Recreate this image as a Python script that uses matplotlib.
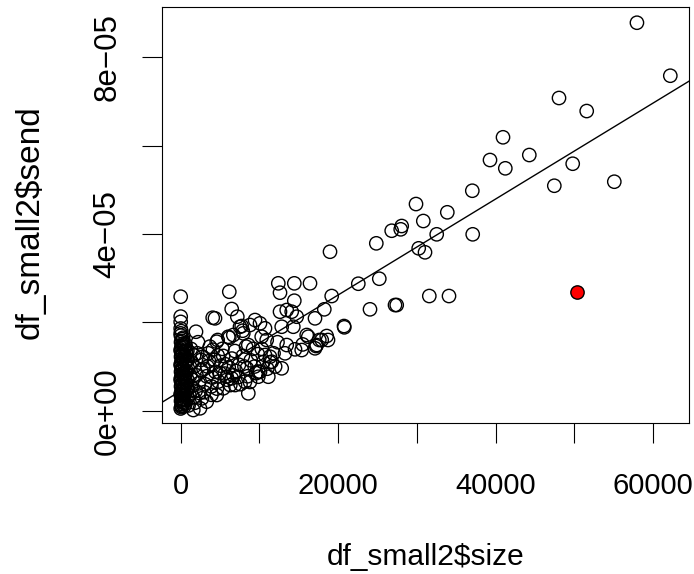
import matplotlib
matplotlib.use("Agg")
import matplotlib.pyplot as plt
import numpy as np

plt.rcParams['font.family'] = ['Liberation Sans', 'DejaVu Sans']

# ---- data: size, send (send in units of 1e-5) ----
# dense column of very small sizes
col_size = [0, 80, 150, 250, 350, 40, 120, 200, 300, 20,
            0, 80, 150, 250, 350, 40, 120, 200, 300, 20,
            0, 80, 150, 250, 350, 40, 120, 200, 300, 20,
            0, 80, 150, 250, 350, 40, 120, 200, 300, 20,
            0, 80, 150, 250, 350, 40, 120, 200, 300, 20,
            0, 80, 150, 250, 0, 0, 0, 0,
            450, 600, 750, 900, 500, 650, 800, 550, 700, 850,
            450, 600, 750, 900, 500, 650, 800, 550, 700, 850,
            450, 600]
col_send = [0.05, 0.08, 0.12, 0.15, 0.18, 0.22, 0.25, 0.28, 0.32, 0.35,
            0.38, 0.42, 0.45, 0.48, 0.52, 0.55, 0.58, 0.62, 0.65, 0.68,
            0.72, 0.75, 0.78, 0.82, 0.85, 0.88, 0.92, 0.95, 0.98, 1.02,
            1.05, 1.08, 1.12, 1.15, 1.18, 1.22, 1.25, 1.28, 1.32, 1.35,
            1.38, 1.42, 1.45, 1.48, 1.52, 1.55, 1.58, 1.62, 1.65, 1.70,
            1.75, 1.80, 0.10, 0.20, 1.86, 2.01, 2.13, 2.58,
            0.10, 0.16, 0.24, 0.30, 0.36, 0.44, 0.50, 0.56, 0.64, 0.70,
            0.76, 0.84, 0.90, 0.96, 1.04, 1.10, 1.16, 1.24, 1.30, 1.36,
            1.44, 1.50]

# small-to-medium sizes
mid_size = [400, 550, 700, 900, 1100, 1300, 1500, 1700, 1900, 2100,
            2300, 2600, 2800, 3000, 3300, 3600, 3900, 4100, 4400, 4800,
            5100, 5400, 5600, 6100, 6500, 7000, 7400, 7900, 8400, 8900,
            9400, 9800, 6300, 7300, 8500, 2700, 1800, 1000, 3900, 10300,
            11800, 12300, 15500,
            500, 700, 900, 1200, 1400, 1600, 2000, 2200, 2400, 2600,
            3100, 3400, 3700, 4000, 4300, 4600, 5000, 5300, 5900, 6700,
            7600, 8100, 8800, 9600, 10500, 11000, 12000, 1300, 1700, 2900,
            3500, 4700, 5700, 6900, 8300, 9200,
            6175, 6480, 4066, 4358, 7193, 1944, 7535, 7954, 8806, 9441,
            6048, 4575, 6684, 12402, 14435, 16429, 12618, 14435, 18246, 17064,
            20788, 12618, 13469, 14104, 14740, 12833, 14307, 10076, 10711, 10293,
            10928, 16010, 17917, 17281, 13469, 13253, 15375, 17064, 18716, 10711,
            11564, 12833, 11131, 9860, 9860, 8590, 8171, 6480, 5414, 4575,
            3304, 2453, 1601, 18551, 17192, 17612, 16213, 14524, 11347, 11347,
            10076, 6900, 5846, 4701, 6175, 8590, 7878, 7751]
mid_send = [0.25, 0.55, 0.85, 1.15, 0.35, 1.40, 0.70, 1.00, 0.45, 1.30,
            0.62, 0.92, 1.22, 0.42, 0.78, 1.12, 0.55, 1.38, 0.88, 0.66,
            1.02, 1.24, 0.84, 0.98, 1.18, 0.90, 1.04, 1.24, 0.96, 1.14,
            1.00, 1.28, 0.58, 0.76, 0.78, 0.28, 0.18, 0.12, 0.36, 1.40,
            1.30, 1.55, 1.50,
            0.70, 1.35, 0.50, 0.80, 1.10, 0.30, 0.80, 1.55, 0.40, 1.15,
            0.60, 1.00, 1.45, 0.75, 1.15, 0.50, 0.85, 1.40, 0.70, 0.80,
            0.60, 1.00, 0.65, 0.85, 1.10, 0.95, 1.00, 0.55, 1.25, 0.95,
            1.30, 1.25, 1.05, 1.35, 1.45, 1.40,
            2.692, 2.301, 2.104, 2.090, 2.127, 1.787, 1.900, 1.751, 1.939, 2.052,
            1.674, 1.561, 1.713, 2.882, 2.882, 2.882, 2.670, 2.489, 2.294, 2.090,
            1.887, 2.240, 2.278, 2.240, 2.127, 1.900, 1.900, 1.977, 1.864, 1.674,
            1.600, 1.713, 1.600, 1.486, 1.486, 1.299, 1.373, 1.412, 1.600, 1.260,
            1.109, 0.959, 0.769, 0.882, 0.769, 0.394, 0.656, 0.733, 0.507, 0.355,
            0.204, 0.054, 0.016, 1.690, 1.464, 1.600, 1.674, 1.389, 1.095, 1.222,
            0.882, 0.581, 0.769, 1.600, 1.652, 1.486, 1.810, 1.916]

# larger sizes
big_size = [57970, 62210, 48068, 51587, 40952, 39300, 41245, 44294, 49808, 37051,
            47471, 55094, 29898, 33875, 30826, 28081, 27954, 26810, 32528, 37102,
            24854, 30241, 31042, 18971, 22567, 25234, 19186, 31588, 34091, 24053,
            27230, 27446, 20750]
big_send = [8.778, 7.579, 7.075, 6.780, 6.186, 5.672, 5.484, 5.785, 5.588, 4.977,
            5.090, 5.181, 4.676, 4.489, 4.292, 4.179, 4.104, 4.072, 3.991, 3.991,
            3.787, 3.674, 3.584, 3.597, 2.873, 2.986, 2.595, 2.595, 2.595, 2.294,
            2.391, 2.391, 1.916]

# highlighted point
red_size = [50393]
red_send = [2.686]

# fitted regression line
fit_intercept = 4.48e-6
fit_slope = 1.085e-9

x_ticks = [0, 10000, 20000, 30000, 40000, 50000, 60000]
x_ticklabels = ["0", "", "20000", "", "40000", "", "60000"]
y_ticks = [0, 2e-5, 4e-5, 6e-5, 8e-5]
y_ticklabels = ["0e+00", "", "4e\u221205", "", "8e\u221205"]

size = np.array(col_size + mid_size + big_size, dtype=float)
send = np.array(col_send + mid_send + big_send, dtype=float) * 1e-5

W, H = 694, 574
fig = plt.figure(figsize=(W / 100, H / 100), dpi=100)
ax = fig.add_axes([161.7 / W, 1 - 422.7 / H, (689.3 - 161.7) / W, (422.7 - 7.3) / H])

ax.scatter(size, send, s=9.6 ** 2, facecolors='none', edgecolors='black',
           linewidths=1.0, zorder=2)
ax.scatter(np.array(red_size), np.array(red_send) * 1e-5, s=9.6 ** 2,
           facecolors='red', edgecolors='black', linewidths=1.0, zorder=3)
ax.axline((0, fit_intercept), slope=fit_slope, color='black', lw=1.0, zorder=2)

ax.set_xlim(-2414, 64623)
ax.set_ylim(-2.71e-6, 9.127e-5)

ax.set_xticks(x_ticks)
ax.set_xticklabels(x_ticklabels)
ax.set_yticks(y_ticks)
ax.set_yticklabels(y_ticklabels, rotation=90, va='center')

for sp in ax.spines.values():
    sp.set_linewidth(0.8)

ax.tick_params(axis='both', direction='out', length=14.4, width=0.8,
               colors='black')
ax.tick_params(axis='x', pad=21, labelsize=21)
ax.tick_params(axis='y', pad=14, labelsize=22.5)

fig.text(0.5 * (161.7 + 689.3) / W, 1 - 565 / H, "df_small2$size",
         ha='center', va='baseline', fontsize=21.5)
fig.text(39 / W, 1 - 222 / H, "df_small2$send",
         ha='center', va='baseline', rotation=90, fontsize=24,
         rotation_mode='anchor')

fig.savefig("out.png", dpi=100)
